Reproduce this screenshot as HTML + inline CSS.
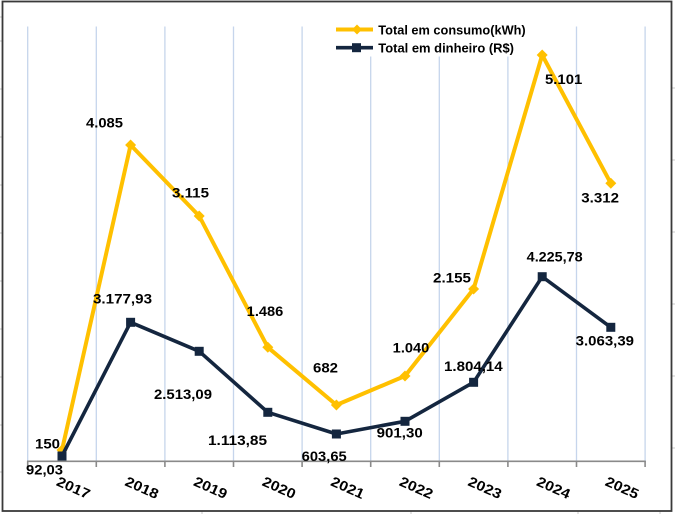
<!DOCTYPE html>
<html><head><meta charset="utf-8"><style>
html,body{margin:0;padding:0;background:#fff;}
svg{display:block;}
text{font-family:"Liberation Sans",sans-serif;font-weight:bold;fill:#000;}
</style></head><body>
<svg width="675" height="514" viewBox="0 0 675 514" xmlns="http://www.w3.org/2000/svg">
<rect x="0" y="0" width="675" height="514" fill="#fff"/>
<!-- outside spreadsheet remnants -->
<g stroke="#c8c8c8" stroke-width="1">
<line x1="672" y1="88" x2="675" y2="88"/><line x1="672" y1="160" x2="675" y2="160"/><line x1="672" y1="232" x2="675" y2="232"/><line x1="672" y1="304" x2="675" y2="304"/><line x1="672" y1="376" x2="675" y2="376"/><line x1="672" y1="448" x2="675" y2="448"/>
<line x1="0" y1="17" x2="2" y2="17"/><line x1="0" y1="41" x2="2" y2="41"/><line x1="0" y1="89" x2="2" y2="89"/><line x1="0" y1="137" x2="2" y2="137"/><line x1="0" y1="185" x2="2" y2="185"/><line x1="0" y1="233" x2="2" y2="233"/><line x1="0" y1="281" x2="2" y2="281"/><line x1="0" y1="329" x2="2" y2="329"/><line x1="0" y1="377" x2="2" y2="377"/><line x1="0" y1="425" x2="2" y2="425"/><line x1="0" y1="472" x2="2" y2="472"/>
<line x1="202" y1="511" x2="202" y2="514"/><line x1="411" y1="511" x2="411" y2="514"/><line x1="578" y1="511" x2="578" y2="514"/><line x1="660" y1="511" x2="660" y2="514"/>
</g>
<!-- chart border -->
<rect x="2.5" y="1.5" width="669" height="509.5" fill="#fff" stroke="#3a3a3a" stroke-width="1.8"/>
<!-- gridlines -->
<g stroke="#c6d5ec" stroke-width="1.3">
<line x1="27.7" y1="26.5" x2="27.7" y2="461"/>
<line x1="96.3" y1="26.5" x2="96.3" y2="461"/>
<line x1="164.9" y1="26.5" x2="164.9" y2="461"/>
<line x1="233.5" y1="26.5" x2="233.5" y2="461"/>
<line x1="302.1" y1="26.5" x2="302.1" y2="461"/>
<line x1="370.7" y1="26.5" x2="370.7" y2="461"/>
<line x1="439.3" y1="26.5" x2="439.3" y2="461"/>
<line x1="507.9" y1="26.5" x2="507.9" y2="461"/>
<line x1="576.5" y1="26.5" x2="576.5" y2="461"/>
<line x1="645.1" y1="26.5" x2="645.1" y2="461"/>
</g>
<!-- legend background -->
<rect x="322" y="15" width="210" height="41.5" fill="#fff"/>
<!-- axis -->
<g stroke="#8a8a8a" stroke-width="1.6">
<line x1="27" y1="461.3" x2="645.8" y2="461.3"/>
<line x1="27.7" y1="461" x2="27.7" y2="467"/>
<line x1="96.3" y1="461" x2="96.3" y2="467"/>
<line x1="164.9" y1="461" x2="164.9" y2="467"/>
<line x1="233.5" y1="461" x2="233.5" y2="467"/>
<line x1="302.1" y1="461" x2="302.1" y2="467"/>
<line x1="370.7" y1="461" x2="370.7" y2="467"/>
<line x1="439.3" y1="461" x2="439.3" y2="467"/>
<line x1="507.9" y1="461" x2="507.9" y2="467"/>
<line x1="576.5" y1="461" x2="576.5" y2="467"/>
<line x1="645.1" y1="461" x2="645.1" y2="467"/>
</g>
<!-- yellow series -->
<polyline fill="none" stroke="#FFC000" stroke-width="4" stroke-linejoin="round" points="62,450 130.6,145 199.2,216 267.8,347.3 336.4,405 405,376 473.6,289 542.2,55 610.8,183.3"/>
<g fill="#FFC000">
<polygon points="62,444.5 67.5,450 62,455.5 56.5,450"/>
<polygon points="130.6,139.5 136.1,145 130.6,150.5 125.1,145"/>
<polygon points="199.2,210.5 204.7,216 199.2,221.5 193.7,216"/>
<polygon points="267.8,341.8 273.3,347.3 267.8,352.8 262.3,347.3"/>
<polygon points="336.4,399.5 341.9,405 336.4,410.5 330.9,405"/>
<polygon points="405,370.5 410.5,376 405,381.5 399.5,376"/>
<polygon points="473.6,283.5 479.1,289 473.6,294.5 468.1,289"/>
<polygon points="542.2,49.5 547.7,55 542.2,60.5 536.7,55"/>
<polygon points="610.8,177.8 616.3,183.3 610.8,188.8 605.3,183.3"/>
</g>
<!-- navy series -->
<polyline fill="none" stroke="#14263f" stroke-width="3.6" stroke-linejoin="round" points="62,456 130.6,322.3 199.2,351.3 267.8,412.3 336.4,434 405,421.3 473.6,382.3 542.2,276.7 610.8,327.3"/>
<g fill="#14263f">
<rect x="57.5" y="451.5" width="9" height="9"/>
<rect x="126.1" y="317.8" width="9" height="9"/>
<rect x="194.7" y="346.8" width="9" height="9"/>
<rect x="263.3" y="407.8" width="9" height="9"/>
<rect x="331.9" y="429.5" width="9" height="9"/>
<rect x="400.5" y="416.8" width="9" height="9"/>
<rect x="469.1" y="377.8" width="9" height="9"/>
<rect x="537.7" y="272.2" width="9" height="9"/>
<rect x="606.3" y="322.8" width="9" height="9"/>
</g>
<!-- data labels -->
<g font-size="14">
<text x="86" y="127.5" textLength="37" lengthAdjust="spacingAndGlyphs">4.085</text>
<text x="172" y="197.5" textLength="37" lengthAdjust="spacingAndGlyphs">3.115</text>
<text x="246.7" y="316" textLength="36.6" lengthAdjust="spacingAndGlyphs">1.486</text>
<text x="313" y="372.3" textLength="25" lengthAdjust="spacingAndGlyphs">682</text>
<text x="35" y="448.3" textLength="25" lengthAdjust="spacingAndGlyphs">150</text>
<text x="26" y="474.5" textLength="37" lengthAdjust="spacingAndGlyphs">92,03</text>
<text x="93" y="303.3" textLength="59" lengthAdjust="spacingAndGlyphs">3.177,93</text>
<text x="154" y="399" textLength="58" lengthAdjust="spacingAndGlyphs">2.513,09</text>
<text x="208" y="445" textLength="59" lengthAdjust="spacingAndGlyphs">1.113,85</text>
<text x="301.7" y="461" textLength="45" lengthAdjust="spacingAndGlyphs">603,65</text>
<text x="376.7" y="437.3" textLength="46" lengthAdjust="spacingAndGlyphs">901,30</text>
<text x="392.7" y="352.3" textLength="36.6" lengthAdjust="spacingAndGlyphs">1.040</text>
<text x="433" y="282.3" textLength="38" lengthAdjust="spacingAndGlyphs">2.155</text>
<text x="444" y="371" textLength="58.7" lengthAdjust="spacingAndGlyphs">1.804,14</text>
<text x="526.7" y="261.7" textLength="56" lengthAdjust="spacingAndGlyphs">4.225,78</text>
<text x="575.7" y="345.7" textLength="58.3" lengthAdjust="spacingAndGlyphs">3.063,39</text>
<text x="545" y="84" textLength="37.3" lengthAdjust="spacingAndGlyphs">5.101</text>
<text x="581.3" y="202.7" textLength="37.7" lengthAdjust="spacingAndGlyphs">3.312</text>
</g>
<!-- x labels rotated -->
<g font-size="14">
<text transform="translate(55.5,485) rotate(24)" textLength="35" lengthAdjust="spacingAndGlyphs">2017</text>
<text transform="translate(124,485) rotate(24)" textLength="35" lengthAdjust="spacingAndGlyphs">2018</text>
<text transform="translate(192.6,485) rotate(24)" textLength="35" lengthAdjust="spacingAndGlyphs">2019</text>
<text transform="translate(261.2,485) rotate(24)" textLength="35" lengthAdjust="spacingAndGlyphs">2020</text>
<text transform="translate(329.8,485) rotate(24)" textLength="35" lengthAdjust="spacingAndGlyphs">2021</text>
<text transform="translate(398.4,485) rotate(24)" textLength="35" lengthAdjust="spacingAndGlyphs">2022</text>
<text transform="translate(467,485) rotate(24)" textLength="35" lengthAdjust="spacingAndGlyphs">2023</text>
<text transform="translate(535.6,485) rotate(24)" textLength="35" lengthAdjust="spacingAndGlyphs">2024</text>
<text transform="translate(604.2,485) rotate(24)" textLength="35" lengthAdjust="spacingAndGlyphs">2025</text>
</g>
<!-- legend -->
<line x1="336" y1="29.5" x2="373" y2="29.5" stroke="#FFC000" stroke-width="4"/>
<polygon points="357,24.5 362,29.5 357,34.5 352,29.5" fill="#FFC000"/>
<line x1="336" y1="47.7" x2="373" y2="47.7" stroke="#14263f" stroke-width="3.6"/>
<rect x="352" y="43.2" width="9" height="9" fill="#14263f"/>
<g font-size="12.5">
<text x="378.3" y="34.3" textLength="147.4" lengthAdjust="spacingAndGlyphs">Total em consumo(kWh)</text>
<text x="378.3" y="52.5" textLength="135.7" lengthAdjust="spacingAndGlyphs">Total em dinheiro (R$)</text>
</g>
</svg>
</body></html>
